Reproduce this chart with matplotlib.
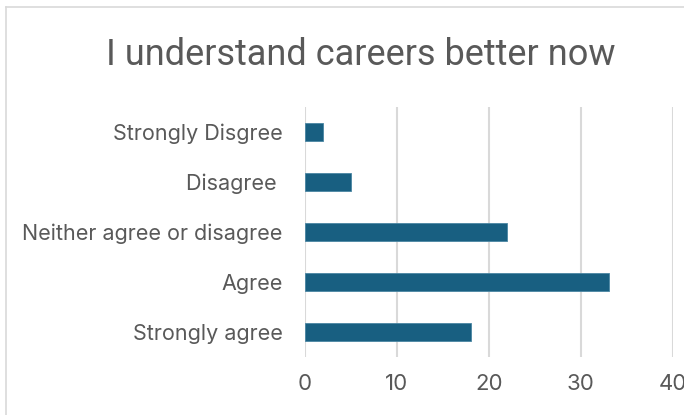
import matplotlib
matplotlib.use("Agg")
import matplotlib.pyplot as plt
from matplotlib.lines import Line2D

categories = ["Strongly Disgree", "Disagree ", "Neither agree or disagree", "Agree", "Strongly agree"]
counts = [2, 5, 22, 33, 18]
xticks = [0, 10, 20, 30, 40]

plt.rcParams["font.family"] = ["Inter", "DejaVu Sans"]

fig = plt.figure(figsize=(6.84, 4.15), dpi=100)
ax = fig.add_axes([305 / 684, 1 - 357 / 415, 368 / 684, 250 / 415])

ypos = list(range(len(categories)))
ax.barh(ypos, counts, height=0.35, color="#185f81", edgecolor="#4a86a3", linewidth=0.6, zorder=3)
ax.set_ylim(len(categories) - 0.5, -0.5)
ax.set_xlim(0, 40)
ax.set_yticks(ypos)
ax.set_yticklabels(categories)
ax.set_xticks(xticks)
ax.tick_params(axis="y", length=0, labelsize=15.5, labelcolor="#595959", pad=16)
ax.tick_params(axis="x", length=0, labelsize=16, labelcolor="#595959", pad=12)
ax.grid(axis="x", color="#d9d9d9", linewidth=1.5, zorder=0)
for s in ax.spines.values():
    s.set_visible(False)

fig.text(0.528, 1 - 55 / 415, "I understand careers better now", ha="center", va="center",
         fontsize=26, color="#595959", family=["Roboto", "DejaVu Sans"])

fig.add_artist(Line2D([5.5 / 684, 5.5 / 684], [0, 1 - 7 / 415], color="#d9d9d9", linewidth=1.2))
fig.add_artist(Line2D([5.5 / 684, 1], [1 - 7 / 415, 1 - 7 / 415], color="#d9d9d9", linewidth=1.2))

fig.savefig("out.png", dpi=100)
